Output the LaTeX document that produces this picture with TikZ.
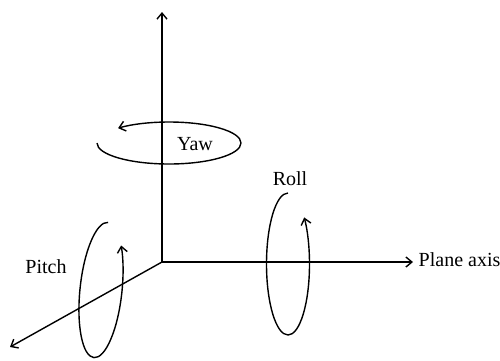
\documentclass[tikz,border=0pt]{standalone}
\usepackage{fontspec}
\setmainfont{Liberation Serif}
\usetikzlibrary{arrows.meta}
\begin{document}
\begin{tikzpicture}[x=1pt,y=1pt, line width=1.4pt,
  arr/.style={-{Straight Barb[length=6pt,width=10pt]}},
  lbl/.style={font=\fontsize{20}{22}\selectfont, inner sep=0pt, anchor=base}]
\useasboundingbox (0,0) rectangle (500,-360);
% axes
\coordinate (O) at (162,-262);
\coordinate (Z) at (162,-12);
\coordinate (X) at (413,-262);
\coordinate (Y) at (10,-347);
\draw[arr] (O) -- (Z);
\draw[arr] (O) -- (X);
\draw[arr] (O) -- (Y);
% labels
\node[lbl, anchor=base west] (plane) at (418,-266) {Plane axis};
\node[lbl] (yaw) at (195,-150) {Yaw};
\node[lbl] (roll) at (290,-185) {Roll};
\node[lbl] (pitch) at (46,-273) {Pitch};
% yaw rotation
\coordinate (yawS) at (97,-143);
\draw[arr] (yawS) arc[start angle=180, end angle=495, x radius=72, y radius=21];
% roll rotation
\coordinate (rollS) at (288,-193);
\draw[arr] (rollS) arc[start angle=90, end angle=401, x radius=21.5, y radius=71];
% pitch rotation
\begin{scope}[shift={(101,-290)}, rotate=-6]
  \coordinate (pitchS) at (0,68);
  \draw[arr] (pitchS) arc[start angle=90, end angle=403, x radius=21, y radius=68];
\end{scope}
\end{tikzpicture}
\end{document}
